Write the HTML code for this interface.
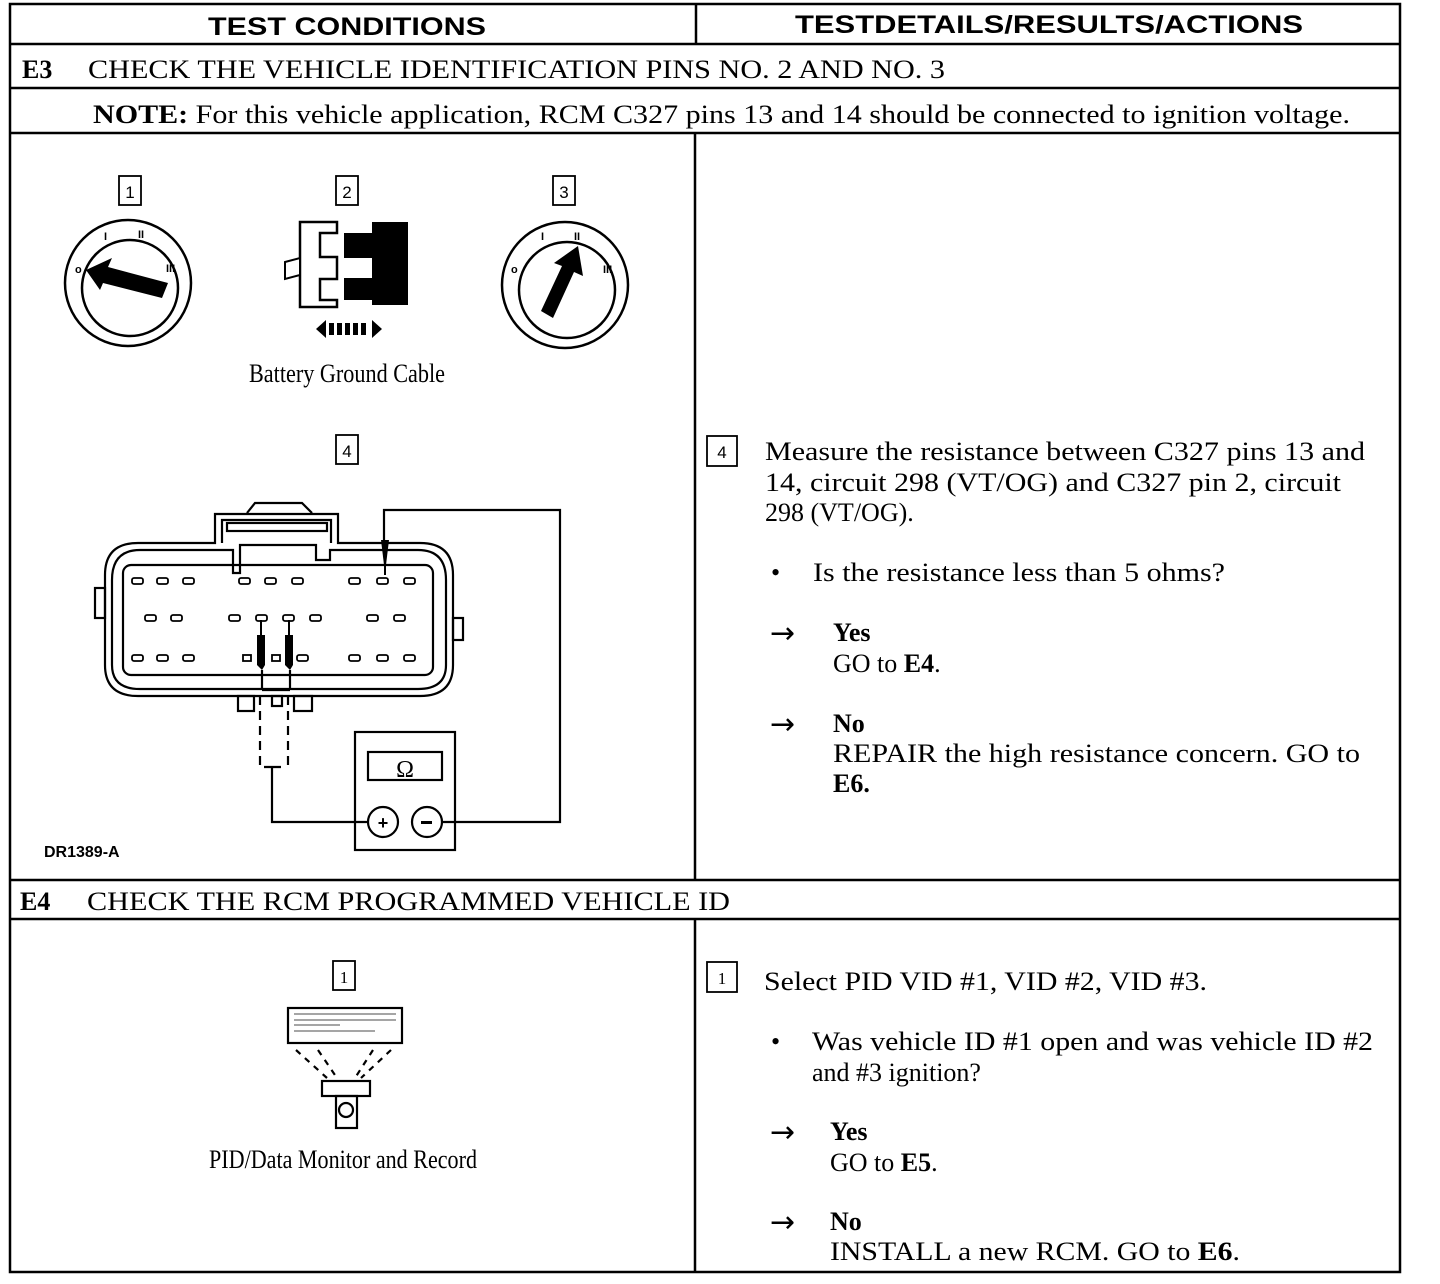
<!DOCTYPE html>
<html><head><meta charset="utf-8"><style>
html,body{margin:0;padding:0;background:#fff;width:1440px;height:1284px;overflow:hidden}
svg{display:block}
.s{font-family:"Liberation Serif",serif;font-size:26px;fill:#000}
.h{font-family:"Liberation Sans",sans-serif;font-weight:bold;font-size:25px;fill:#000}
.b{font-weight:bold}
.ar{font-family:"DejaVu Sans",sans-serif;font-size:30px}
</style></head><body>
<svg width="1440" height="1284" viewBox="0 0 1440 1284" xmlns="http://www.w3.org/2000/svg">
<g stroke="#000" stroke-width="2.5" fill="none">
<rect x="10" y="4" width="1390" height="1268"/>
<line x1="10" y1="44" x2="1400" y2="44"/>
<line x1="10" y1="88" x2="1400" y2="88"/>
<line x1="10" y1="133" x2="1400" y2="133"/>
<line x1="10" y1="880" x2="1400" y2="880"/>
<line x1="10" y1="919" x2="1400" y2="919"/>
<line x1="696" y1="4" x2="696" y2="44"/>
<line x1="695" y1="133" x2="695" y2="880"/>
<line x1="695" y1="919" x2="695" y2="1272"/>
</g>
<text class="h" x="208" y="35" textLength="278" lengthAdjust="spacingAndGlyphs">TEST CONDITIONS</text>
<text class="h" x="795" y="33" textLength="508" lengthAdjust="spacingAndGlyphs">TESTDETAILS/RESULTS/ACTIONS</text>
<text class="s" x="22" y="78"><tspan class="b">E3</tspan></text>
<text class="s" x="88" y="78" textLength="857" lengthAdjust="spacingAndGlyphs">CHECK THE VEHICLE IDENTIFICATION PINS NO. 2 AND NO. 3</text>
<text class="s" x="93" y="123" textLength="1257" lengthAdjust="spacingAndGlyphs"><tspan class="b">NOTE:</tspan> For this vehicle application, RCM C327 pins 13 and 14 should be connected to ignition voltage.</text>
<text class="s" x="20" y="910"><tspan class="b">E4</tspan></text>
<text class="s" x="87" y="910" textLength="643" lengthAdjust="spacingAndGlyphs">CHECK THE RCM PROGRAMMED VEHICLE ID</text>

<g stroke="#000" stroke-width="1.8" fill="none">
<rect x="119" y="176" width="22" height="29"/><rect x="336" y="176" width="22" height="29"/><rect x="553" y="176" width="22" height="29"/>
<rect x="336" y="435" width="22" height="29"/><rect x="707" y="436" width="30" height="30"/>
<rect x="333" y="961" width="22" height="29"/><rect x="707" y="962" width="30" height="30"/>
</g>
<g font-family="Liberation Sans,sans-serif" font-size="17" text-anchor="middle">
<text x="130" y="198">1</text><text x="347" y="198">2</text><text x="564" y="198">3</text><text x="347" y="457">4</text><text x="722" y="458">4</text>
<text x="344" y="983" font-family="Liberation Serif,serif">1</text><text x="722" y="984" font-family="Liberation Serif,serif">1</text>
</g>

<g stroke="#000" fill="none" stroke-width="2.5">
<circle cx="128" cy="283" r="63"/><circle cx="130" cy="288" r="48"/>
<circle cx="565" cy="285" r="63"/><circle cx="567" cy="290" r="48"/>
</g>
<polygon points="86,270 112,258 108,267 168,283 162,298 103,283 100,290" fill="#000"/>
<polygon points="578,246 583,276 574,272 553,318 541,311 562,266 554,263" fill="#000"/>
<g font-family="Liberation Sans,sans-serif" font-size="11" font-weight="bold">
<text x="75" y="273">o</text><text x="104" y="240">I</text><text x="138" y="238">II</text><text x="166" y="272">III</text>
<text x="511" y="273">o</text><text x="541" y="240">I</text><text x="574" y="240">II</text><text x="603" y="273">III</text>
</g>

<path d="M300,222 H337 V233 H320 V257 H337 V279 H320 V300 H337 V307 H300 Z" fill="#fff" stroke="#000" stroke-width="2.5"/>
<path d="M285,262 L300,258 V275 L285,279 Z" fill="#fff" stroke="#000" stroke-width="2"/>
<path d="M372,222 H408 V305 H372 V300 H344 V278 H372 V258 H344 V233 H372 Z" fill="#000"/>
<polygon points="316,329 326,320 326,338" fill="#000"/><polygon points="382,329 372,320 372,338" fill="#000"/>
<g fill="#000"><rect x="329" y="323" width="5" height="12"/><rect x="337" y="323" width="5" height="12"/><rect x="345" y="323" width="5" height="12"/><rect x="353" y="323" width="5" height="12"/><rect x="361" y="323" width="5" height="12"/></g>
<text class="s" x="249" y="382" font-size="18" textLength="196" lengthAdjust="spacingAndGlyphs">Battery Ground Cable</text>

<g stroke="#000" stroke-width="2.2" fill="none">
<path d="M247,513 L255,503 H302 L312,513"/>
<path d="M215,543 V514 H338 V543 H420 Q453,543 453,575 V665 Q453,696 420,696 H138 Q105,696 105,665 V575 Q105,543 138,543 Z"/>
<path d="M222,543 V520 H331 V543"/>
<rect x="227" y="523" width="100" height="8"/>
<path d="M112,590 V580 Q112,550 140,550 H233 V573 H240 V545 H316 V560 H330 V550 H418 Q446,550 446,580 V665 Q446,689 418,689 H140 Q112,689 112,665 Z"/>
<rect x="123" y="565" width="310" height="110" rx="8"/>
<rect x="95" y="588" width="10" height="30"/><rect x="453" y="618" width="10" height="22"/>
<rect x="238" y="696" width="16" height="15"/><rect x="294" y="696" width="18" height="15"/><rect x="272" y="696" width="10" height="10"/>
<line x1="260" y1="696" x2="260" y2="768" stroke-dasharray="9,6"/>
<line x1="288" y1="696" x2="288" y2="768" stroke-dasharray="9,6"/>
<line x1="262" y1="670" x2="262" y2="690"/><line x1="290" y1="670" x2="290" y2="690"/>
<line x1="262" y1="690" x2="290" y2="690"/>
</g>
<g fill="#fff" stroke="#000" stroke-width="1.8">
<rect x="132" y="578" width="11" height="6" rx="2"/><rect x="157" y="578" width="11" height="6" rx="2"/><rect x="183" y="578" width="11" height="6" rx="2"/>
<rect x="239" y="578" width="11" height="6" rx="2"/><rect x="265" y="578" width="11" height="6" rx="2"/><rect x="292" y="578" width="11" height="6" rx="2"/>
<rect x="349" y="578" width="11" height="6" rx="2"/><rect x="377" y="578" width="11" height="6" rx="2"/><rect x="404" y="578" width="11" height="6" rx="2"/>
<rect x="145" y="615" width="11" height="6" rx="2"/><rect x="171" y="615" width="11" height="6" rx="2"/><rect x="229" y="615" width="11" height="6" rx="2"/><rect x="256" y="615" width="11" height="6" rx="2"/>
<rect x="283" y="615" width="11" height="6" rx="2"/><rect x="310" y="615" width="11" height="6" rx="2"/><rect x="367" y="615" width="11" height="6" rx="2"/><rect x="394" y="615" width="11" height="6" rx="2"/>
<rect x="132" y="655" width="11" height="6" rx="2"/><rect x="157" y="655" width="11" height="6" rx="2"/><rect x="183" y="655" width="11" height="6" rx="2"/>
<rect x="243" y="655" width="8" height="6"/><rect x="272" y="655" width="8" height="6"/><rect x="297" y="655" width="11" height="6" rx="2"/>
<rect x="349" y="655" width="11" height="6" rx="2"/><rect x="377" y="655" width="11" height="6" rx="2"/><rect x="404" y="655" width="11" height="6" rx="2"/>
</g>
<g fill="#000">
<polygon points="381,540 389,540 386,565 384,565"/><rect x="384" y="560" width="2" height="15"/>
<polygon points="257,635 265,635 265,665 262,670 257,665"/><rect x="260" y="620" width="2" height="16"/>
<polygon points="285,635 293,635 293,665 290,670 285,665"/><rect x="288" y="620" width="2" height="16"/>
</g>
<g stroke="#000" stroke-width="2.2" fill="none">
<path d="M384,540 V510 H560 V822 H442"/>
<path d="M368,822 H272 V767 M264,767 H281"/>
<rect x="355" y="732" width="100" height="118"/>
<rect x="368" y="752" width="74" height="28"/>
<circle cx="383" cy="822" r="15"/><circle cx="427" cy="822" r="15"/>
</g>
<text x="405" y="777" text-anchor="middle" font-family="Liberation Serif,serif" font-size="24">Ω</text>
<text x="383" y="829" text-anchor="middle" font-family="Liberation Sans,sans-serif" font-size="18" font-weight="bold">+</text>
<rect x="421" y="821" width="11" height="3" fill="#000"/>
<text x="44" y="857" font-family="Liberation Sans,sans-serif" font-size="16" font-weight="bold">DR1389-A</text>

<g stroke="#000" stroke-width="2.2" fill="none">
<rect x="288" y="1008" width="114" height="35"/>
<rect x="322" y="1081" width="48" height="15"/>
<rect x="336" y="1096" width="21" height="32"/>
<circle cx="346" cy="1110" r="7"/>
<path d="M296,1050 L327,1078 M318,1050 L337,1078 M391,1050 L361,1078 M373,1050 L355,1078" stroke-dasharray="6,6"/>
</g>
<g stroke="#000" stroke-width="1" opacity="0.7">
<line x1="294" y1="1014" x2="396" y2="1014"/><line x1="294" y1="1020" x2="396" y2="1020"/><line x1="294" y1="1025" x2="340" y2="1025"/><line x1="294" y1="1031" x2="375" y2="1031"/>
</g>
<text class="s" x="209" y="1168" font-size="18" textLength="268" lengthAdjust="spacingAndGlyphs">PID/Data Monitor and Record</text>

<text class="s" x="765" y="460" textLength="600" lengthAdjust="spacingAndGlyphs">Measure the resistance between C327 pins 13 and</text>
<text class="s" x="765" y="491" textLength="576" lengthAdjust="spacingAndGlyphs">14, circuit 298 (VT/OG) and C327 pin 2, circuit</text>
<text class="s" x="765" y="521">298 (VT/OG).</text>
<text class="s" x="771" y="581">•</text>
<text class="s" x="813" y="581" textLength="412" lengthAdjust="spacingAndGlyphs">Is the resistance less than 5 ohms?</text>
<text class="ar" x="770" y="643">→</text><text class="s b" x="833" y="641">Yes</text>
<text class="s" x="833" y="672">GO to <tspan class="b">E4</tspan>.</text>
<text class="ar" x="770" y="734">→</text><text class="s b" x="833" y="732">No</text>
<text class="s" x="833" y="762" textLength="527" lengthAdjust="spacingAndGlyphs">REPAIR the high resistance concern. GO to</text>
<text class="s b" x="833" y="792">E6.</text>

<text class="s" x="764" y="990" textLength="443" lengthAdjust="spacingAndGlyphs">Select PID VID #1, VID #2, VID #3.</text>
<text class="s" x="771" y="1050">•</text>
<text class="s" x="812" y="1050" textLength="561" lengthAdjust="spacingAndGlyphs">Was vehicle ID #1 open and was vehicle ID #2</text>
<text class="s" x="812" y="1081">and #3 ignition?</text>
<text class="ar" x="770" y="1142">→</text><text class="s b" x="830" y="1140">Yes</text>
<text class="s" x="830" y="1171">GO to <tspan class="b">E5</tspan>.</text>
<text class="ar" x="770" y="1232">→</text><text class="s b" x="830" y="1230">No</text>
<text class="s" x="830" y="1260" textLength="410" lengthAdjust="spacingAndGlyphs">INSTALL a new RCM. GO to <tspan class="b">E6</tspan>.</text>
</svg>
</body></html>
